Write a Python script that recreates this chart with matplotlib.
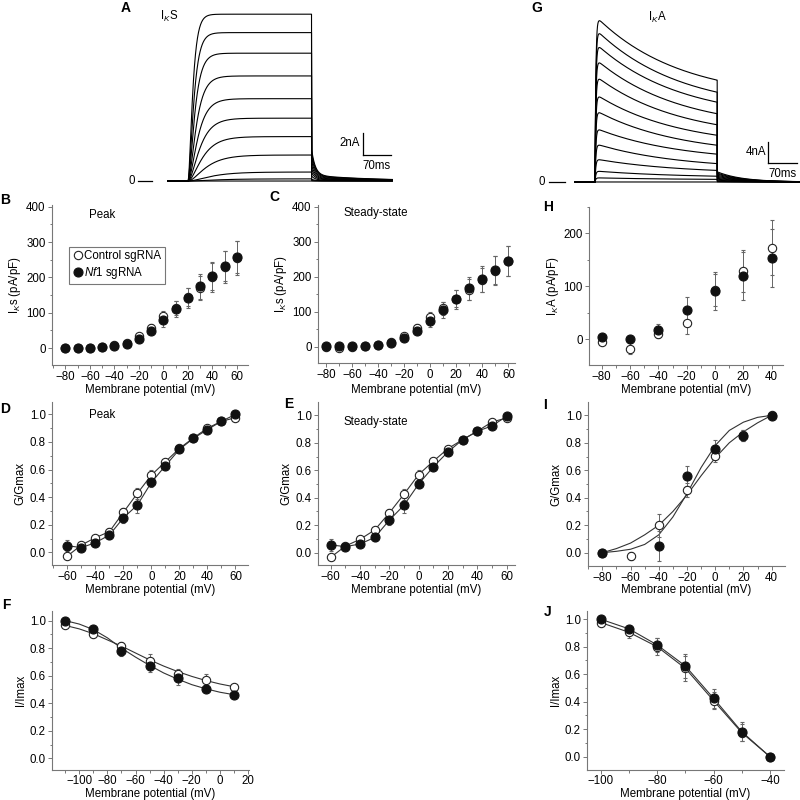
import numpy as np
import matplotlib
matplotlib.use('Agg')
import matplotlib.pyplot as plt
from matplotlib.ticker import MultipleLocator, FormatStrFormatter
from matplotlib.lines import Line2D

plt.rcParams['font.family'] = ['Liberation Sans', 'DejaVu Sans']
plt.rcParams['font.size'] = 8.3
plt.rcParams['mathtext.fontset'] = 'custom'
plt.rcParams['mathtext.rm'] = 'Liberation Sans'
plt.rcParams['mathtext.it'] = 'Liberation Sans:italic'

# ---------------- data ----------------
# IKs traces (A): steady amplitude (nA) and activation time constant (ms)
iks_amp = [15.4, 13.7, 11.8, 9.7, 7.6, 5.8, 4.1, 2.4, 0.83, 0.2, 0.0]
iks_tau = [9, 11, 13, 16, 19, 23, 28, 35, 45, 55, 60]
# IKA traces (G): peak and end-of-step amplitude (nA)
ika_peak = [31.7, 29.2, 26.5, 23.5, 20.3, 16.8, 13.7, 10.3, 7.3, 4.4, 2.1, 0.8, 0.0]
ika_end = [19.4, 17.1, 15.2, 13.0, 10.9, 8.9, 7.0, 5.3, 3.5, 2.2, 1.1, 0.5, 0.0]

# B, C: IKs density
v_iks = [-80, -70, -60, -50, -40, -30, -20, -10, 0, 10, 20, 30, 40, 50, 60]
peak_ctrl = [1, 0, 1, 2, 8, 15, 33, 58, 90, 113, 145, 170, 200, 230, 255]
peak_ctrl_err = [1, 1, 1, 2, 3, 5, 7, 10, 14, 20, 26, 35, 42, 45, 48]
peak_nf1 = [0, 0, 1, 2, 6, 12, 26, 48, 78, 110, 142, 175, 204, 232, 258]
peak_nf1_err = [1, 1, 1, 2, 3, 4, 6, 9, 18, 22, 28, 35, 39, 42, 46]
ss_ctrl = [0, -2, 0, 3, 5, 14, 30, 55, 85, 110, 138, 163, 190, 218, 245]
ss_ctrl_err = [1, 1, 1, 2, 3, 5, 7, 9, 14, 18, 24, 30, 34, 40, 44]
ss_nf1 = [2, 2, 2, 3, 5, 11, 25, 46, 74, 105, 136, 167, 194, 219, 245]
ss_nf1_err = [1, 1, 1, 2, 3, 4, 6, 8, 17, 22, 27, 33, 37, 40, 44]

# H: IKA density
v_ika = [-80, -60, -40, -20, 0, 20, 40]
ika_ctrl = [-5, -18, 9, 30, 93, 129, 173]
ika_ctrl_err = [3, 10, 6, 20, 30, 40, 52]
ika_nf1 = [4, 0, 18, 56, 91, 119, 153]
ika_nf1_err = [3, 3, 10, 23, 36, 45, 55]

# D, E: IKs activation
v_g = [-60, -50, -40, -30, -20, -10, 0, 10, 20, 30, 40, 50, 60]
gp_ctrl = [-0.027, 0.053, 0.106, 0.15, 0.29, 0.428, 0.56, 0.657, 0.753, 0.83, 0.90, 0.95, 0.976]
gp_ctrl_err = [0.02, 0.015, 0.015, 0.025, 0.03, 0.04, 0.04, 0.02, 0.02, 0.015, 0.01, 0.01, 0.01]
gp_nf1 = [0.048, 0.034, 0.07, 0.125, 0.25, 0.343, 0.507, 0.628, 0.746, 0.826, 0.89, 0.95, 1.0]
gp_nf1_err = [0.04, 0.015, 0.015, 0.03, 0.035, 0.06, 0.03, 0.025, 0.02, 0.015, 0.015, 0.01, 0.01]
gs_ctrl = [-0.034, 0.048, 0.097, 0.165, 0.29, 0.426, 0.569, 0.666, 0.758, 0.823, 0.884, 0.952, 0.98]
gs_ctrl_err = [0.02, 0.015, 0.015, 0.02, 0.03, 0.04, 0.035, 0.02, 0.02, 0.015, 0.01, 0.01, 0.01]
gs_nf1 = [0.056, 0.044, 0.063, 0.111, 0.237, 0.346, 0.50, 0.625, 0.734, 0.823, 0.884, 0.923, 0.993]
gs_nf1_err = [0.045, 0.015, 0.015, 0.025, 0.035, 0.055, 0.03, 0.025, 0.02, 0.015, 0.015, 0.01, 0.01]

# I: IKA activation + fits
v_gi = [-80, -60, -40, -20, 0, 20, 40]
gi_ctrl = [0.0, -0.022, 0.2, 0.455, 0.702, 0.855, 1.0]
gi_ctrl_err = [0.005, 0.03, 0.085, 0.05, 0.04, 0.04, 0.005]
gi_nf1 = [0.0, np.nan, 0.048, 0.557, 0.758, 0.85, 0.995]
gi_nf1_err = [0.005, np.nan, 0.11, 0.075, 0.065, 0.04, 0.005]
v_fit_i = [-80, -70, -60, -50, -40, -30, -20, -10, 0, 10, 20, 30, 40]
fit_i_ctrl = [0.0, 0.03, 0.07, 0.13, 0.2, 0.3, 0.42, 0.56, 0.69, 0.8, 0.88, 0.945, 1.0]
fit_i_nf1 = [0.0, 0.01, 0.025, 0.06, 0.13, 0.26, 0.43, 0.62, 0.78, 0.89, 0.95, 0.985, 1.0]

# F: IKs inactivation + fits
v_inact = [-110, -90, -70, -50, -30, -10, 10]
if_ctrl = [0.965, 0.905, 0.815, 0.71, 0.615, 0.57, 0.52]
if_ctrl_err = [0.01, 0.01, 0.03, 0.05, 0.035, 0.045, 0.015]
if_nf1 = [1.0, 0.937, 0.78, 0.67, 0.58, 0.503, 0.462]
if_nf1_err = [0.01, 0.01, 0.04, 0.04, 0.045, 0.015, 0.015]
v_fit_f = [-110, -100, -90, -80, -70, -60, -50, -40, -30, -20, -10, 0, 10]
fit_f_ctrl = [0.965, 0.94, 0.905, 0.86, 0.815, 0.765, 0.715, 0.67, 0.63, 0.595, 0.565, 0.54, 0.52]
fit_f_nf1 = [1.0, 0.975, 0.935, 0.875, 0.80, 0.735, 0.675, 0.62, 0.575, 0.535, 0.505, 0.48, 0.462]

# J: IKA inactivation
v_ij = [-100, -90, -80, -70, -60, -50, -40]
ij_ctrl = [0.976, 0.905, 0.80, 0.643, 0.408, 0.175, 0.0]
ij_ctrl_err = [0.01, 0.045, 0.06, 0.09, 0.06, 0.06, 0.005]
ij_nf1 = [1.0, 0.93, 0.813, 0.66, 0.425, 0.182, 0.0]
ij_nf1_err = [0.01, 0.02, 0.05, 0.09, 0.07, 0.07, 0.005]

# ---------------- figure ----------------
W = 800
FS = 8.3
fig = plt.figure(figsize=(8, 8), dpi=100)


def px_axes(x0, y0, x1, y1):
    ax = fig.add_axes([x0 / W, 1 - y1 / W, (x1 - x0) / W, (y1 - y0) / W])
    ax._px = (y0, y1)
    return ax


def ftext(x, y, s, **kw):
    fig.text(x / W, 1 - y / W, s, **kw)


def letter(x, y, s):
    ftext(x, y, s, fontsize=10, fontweight='bold', ha='center', va='center')


def style(ax, xlim, ylim, xmaj, xmin, ymaj, ymin, pad=1.5):
    ax.set_xlim(xlim)
    ax.set_ylim(ylim)
    for s in ['top', 'right']:
        ax.spines[s].set_visible(False)
    for s in ['left', 'bottom']:
        ax.spines[s].set_color('#777777')
        ax.spines[s].set_linewidth(0.8)
    ax.xaxis.set_major_locator(MultipleLocator(xmaj))
    ax.xaxis.set_minor_locator(MultipleLocator(xmin))
    ax.yaxis.set_major_locator(MultipleLocator(ymaj))
    ax.yaxis.set_minor_locator(MultipleLocator(ymin))
    ax.tick_params(which='both', direction='out', color='#777777', width=0.7, labelsize=FS, pad=1.5)
    ax.tick_params(axis='x', pad=pad)
    ax.tick_params(which='major', length=3)
    ax.tick_params(which='minor', length=1.8)
    ax.set_facecolor('none')


open_kw = dict(marker='o', ms=6, mfc='white', mec='#222222', mew=0.8)
fill_kw = dict(marker='o', ms=6.5, mfc='#111111', mec='#111111', mew=0.8)
err_kw = dict(ecolor='#666666', elinewidth=0.7, capsize=1.5, capthick=0.7, ls='none')


def pair(ax, x, yc, ec, yn, en):
    ax.errorbar(x, yc, yerr=ec, **open_kw, **err_kw)
    ax.errorbar(x, yn, yerr=en, **fill_kw, **err_kw)


def labels(ax, ylab, xlab_px):
    # xlab_px: centre of the x label, in figure pixels from the top
    y0, y1 = ax._px
    ax.set_xlabel('Membrane potential (mV)', fontsize=FS, va='center')
    ax.xaxis.set_label_coords(0.5, (y1 - xlab_px) / (y1 - y0))
    ax.set_ylabel(ylab, fontsize=FS, labelpad=2)


# ---- A: IKs traces ----
axA = px_axes(120, 0, 400, 195)
axA.axis('off')
axA.set_xlim(-167.9, 523.5)
axA.set_ylim(-1.29, 16.71)
t = np.arange(-50, 505, 0.5)
T_on = 305
for a, tau in zip(iks_amp, iks_tau):
    y = np.zeros_like(t)
    on = (t >= 0) & (t <= T_on)
    y[on] = a * (1 - np.exp(-t[on] / tau)) ** 2
    off = t > T_on
    tt = t[off] - T_on
    y[off] = 0.16 * a * np.exp(-tt / 9) + 0.035 * a * np.exp(-tt / 150)
    axA.plot(t, y, color='black', lw=0.8)
axA.plot([431, 431], [2.4, 4.4], color='black', lw=0.9)
axA.plot([431, 501], [2.4, 2.4], color='black', lw=0.9)
axA.text(424, 3.5, '2nA', ha='right', va='center', fontsize=FS)
axA.text(466, 1.4, '70ms', ha='center', va='center', fontsize=FS)
axA.plot([-123, -89], [0, 0], color='black', lw=0.9)
axA.text(-132, 0, '0', ha='right', va='center', fontsize=FS)
letter(126, 8, 'A')
ftext(160, 16, r'I$_{\mathit{K}}$S', fontsize=FS, ha='left', va='center')

# ---- G: IKA traces ----
axG = px_axes(530, 0, 800, 195)
axG.axis('off')
axG.set_xlim(-157, 495)
axG.set_ylim(-2.48, 34.67)
t = np.arange(-48, 495, 0.5)
T_on = 295
tau_i = 200.0
for pk, en in zip(ika_peak, ika_end):
    y = np.zeros_like(t)
    on = (t >= 0) & (t <= T_on)
    g = (np.exp(-t[on] / tau_i) - np.exp(-T_on / tau_i)) / (1 - np.exp(-T_on / tau_i))
    y[on] = (en + (pk - en) * g) * (1 - np.exp(-t[on] / 2.0))
    off = t > T_on
    tt = t[off] - T_on
    y[off] = 0.1 * en * np.exp(-tt / 60)
    axG.plot(t, y, color='black', lw=0.8)
axG.plot([418, 418], [3.62, 7.62], color='black', lw=0.9)
axG.plot([418, 488], [3.62, 3.62], color='black', lw=0.9)
axG.text(414, 5.8, '4nA', ha='right', va='center', fontsize=FS)
axG.text(453, 1.6, '70ms', ha='center', va='center', fontsize=FS)
axG.plot([-111, -72], [0, 0], color='black', lw=0.9)
axG.text(-120, 0, '0', ha='right', va='center', fontsize=FS)
letter(537, 8, 'G')
ftext(648, 17, r'I$_{\mathit{K}}$A', fontsize=FS, ha='left', va='center')

# ---- B ----
axB = px_axes(52, 205, 248, 365)
style(axB, (-91, 69), (-48, 405), 20, 10, 100, 50)
pair(axB, v_iks, peak_ctrl, peak_ctrl_err, peak_nf1, peak_nf1_err)
labels(axB, r'I$_{\mathit{K}}$s (pA/pF)', 390)
axB.text(0.19, 0.94, 'Peak', transform=axB.transAxes, ha='left', va='center', fontsize=FS)
handles = [Line2D([], [], ls='none', **open_kw), Line2D([], [], ls='none', **fill_kw)]
leg = axB.legend(handles, ['Control sgRNA', '$Nf1$ sgRNA'], loc='upper left',
                 bbox_to_anchor=(0.085, 0.74), frameon=True, fancybox=False,
                 handletextpad=0.05, borderpad=0.3, handlelength=1.0, borderaxespad=0,
                 labelspacing=0.25, fontsize=FS)
leg.get_frame().set_edgecolor('#555555')
leg.get_frame().set_linewidth(0.8)
letter(5, 200, 'B')

# ---- C ----
axC = px_axes(318, 205, 515, 363)
style(axC, (-86, 65), (-46, 405), 20, 10, 100, 50)
pair(axC, v_iks, ss_ctrl, ss_ctrl_err, ss_nf1, ss_nf1_err)
labels(axC, r'I$_{\mathit{K}}$s (pA/pF)', 390)
axC.text(0.13, 0.95, 'Steady-state', transform=axC.transAxes, ha='left', va='center', fontsize=FS)
letter(274, 197, 'C')

# ---- H ----
axH = px_axes(589, 207, 783, 365)
style(axH, (-89, 48), (-49, 250), 20, 10, 100, 50)
pair(axH, v_ika, ika_ctrl, ika_ctrl_err, ika_nf1, ika_nf1_err)
labels(axH, r'I$_{\mathit{K}}$A (pA/pF)', 390)
letter(548, 207, 'H')

# ---- D ----
axD = px_axes(52, 402, 248, 565)
style(axD, (-71, 69), (-0.092, 1.09), 20, 10, 0.2, 0.1)
axD.plot(v_g, gp_ctrl, color='#333333', lw=0.8)
axD.plot(v_g, gp_nf1, color='#333333', lw=0.8)
pair(axD, v_g, gp_ctrl, gp_ctrl_err, gp_nf1, gp_nf1_err)
labels(axD, 'G/Gmax', 590)
axD.text(0.19, 0.92, 'Peak', transform=axD.transAxes, ha='left', va='center', fontsize=FS)
letter(5, 409, 'D')

# ---- E ----
axE = px_axes(318, 402, 515, 565)
style(axE, (-68.7, 65.7), (-0.09, 1.097), 20, 10, 0.2, 0.1)
axE.plot(v_g, gs_ctrl, color='#333333', lw=0.8)
axE.plot(v_g, gs_nf1, color='#333333', lw=0.8)
pair(axE, v_g, gs_ctrl, gs_ctrl_err, gs_nf1, gs_nf1_err)
labels(axE, 'G/Gmax', 590)
axE.text(0.13, 0.88, 'Steady-state', transform=axE.transAxes, ha='left', va='center', fontsize=FS)
letter(289, 404, 'E')

# ---- I ----
axI = px_axes(588, 402, 785, 566)
style(axI, (-90.2, 49.5), (-0.097, 1.097), 20, 10, 0.2, 0.1)
axI.plot(v_fit_i, fit_i_ctrl, color='#333333', lw=0.8)
axI.plot(v_fit_i, fit_i_nf1, color='#333333', lw=0.8)
pair(axI, v_gi, gi_ctrl, gi_ctrl_err, gi_nf1, gi_nf1_err)
labels(axI, 'G/Gmax', 590)
letter(545, 405, 'I')

# ---- F ----
axF = px_axes(52, 611, 249, 770)
style(axF, (-119.4, 20.7), (-0.085, 1.07), 20, 10, 0.2, 0.1, pad=0.8)
axF.plot(v_fit_f, fit_f_ctrl, color='#333333', lw=0.8)
axF.plot(v_fit_f, fit_f_nf1, color='#333333', lw=0.8)
pair(axF, v_inact, if_ctrl, if_ctrl_err, if_nf1, if_nf1_err)
labels(axF, 'I/Imax', 793.5)
letter(6, 605, 'F')

# ---- J ----
axJ = px_axes(587, 611, 784, 770)
style(axJ, (-104.9, -35), (-0.097, 1.06), 20, 10, 0.2, 0.1, pad=0.8)
axJ.plot(v_ij, ij_ctrl, color='#333333', lw=0.8)
axJ.plot(v_ij, ij_nf1, color='#333333', lw=0.8)
pair(axJ, v_ij, ij_ctrl, ij_ctrl_err, ij_nf1, ij_nf1_err)
labels(axJ, 'I/Imax', 793.5)
letter(548, 612, 'J')

for ax in [axD, axE, axI, axF, axJ]:
    ax.yaxis.set_major_formatter(FormatStrFormatter('%.1f'))

fig.savefig('out.png', dpi=100)
